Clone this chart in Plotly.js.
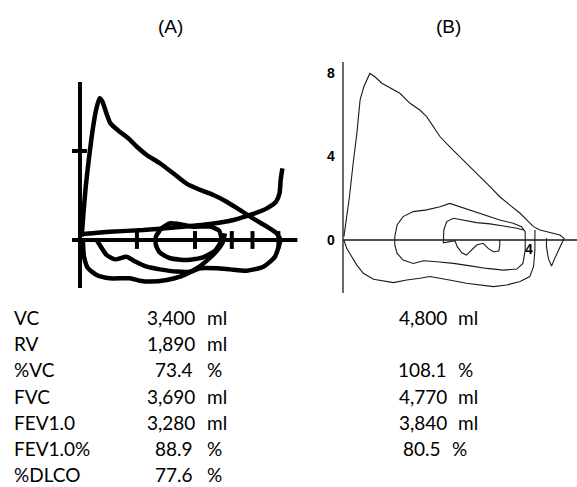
<!DOCTYPE html>
<html>
<head>
<meta charset="utf-8">
<script src="https://cdn.plot.ly/plotly-3.0.1.min.js"></script>
<style>html,body{margin:0;padding:0;background:#fff;}#chart{width:577px;height:487px;}</style>
</head>
<body>
<div id="chart"></div>
<script>
// ---------- Panel A (volume L, flow L/s), hand-traced loops ----------
var aExpX = [0.03,0.06,0.10,0.16,0.22,0.28,0.34,0.39,0.46,0.53,0.67,0.84,0.99,1.16,1.39,1.62,1.86,2.09,2.32,2.55,2.78,3.01,3.25,3.42,3.49];
var aExpY = [0.15,1.2,2.40,3.75,4.94,5.84,6.37,6.22,5.69,5.24,4.91,4.57,4.19,3.82,3.45,3.00,2.52,2.25,2.02,1.72,1.35,0.97,0.60,0.30,0];
var aRiseX = [0.06,0.52,1.10,1.68,2.26,2.67,3.01,3.25,3.41,3.47,3.49,3.52];
var aRiseY = [0.27,0.37,0.45,0.57,0.72,0.90,1.17,1.42,1.72,2.10,2.70,3.22];
var aInspX = [0.05,0.07,0.14,0.29,0.52,0.87,1.04,1.22,1.51,1.74,1.94,2.09,2.38,2.61,2.90,3.19,3.39,3.48];
var aInspY = [0,-0.75,-1.27,-1.57,-1.72,-1.72,-1.83,-1.87,-1.80,-1.65,-1.42,-1.27,-1.27,-1.32,-1.38,-1.20,-0.75,-0.07];
var aInnerX = [0.29,0.38,0.46,0.61,0.81,0.96,1.16,1.39,1.68,1.91,2.09,2.23,2.37,2.48,2.52];
var aInnerY = [0,-0.37,-0.67,-0.87,-0.75,-0.97,-1.20,-1.32,-1.42,-1.42,-1.17,-0.87,-0.52,-0.12,0.30];
var aLoopX = [1.57,1.42,1.32,1.32,1.39,1.57,1.86,2.14,2.35,2.46,2.42,2.26,1.97,1.71,1.57];
var aLoopY = [0.75,0.52,0.15,-0.22,-0.57,-0.82,-0.90,-0.78,-0.48,0,0.42,0.60,0.60,0.72,0.75];
var aXTicks = [0.99,2.0,2.64,3.0,3.45];
var aYTicks = [4];

// ---------- Panel B (volume L, flow L/s) ----------
var bExpX = [0.02,0.06,0.14,0.22,0.30,0.37,0.45,0.58,0.69,0.84,0.98,1.23,1.45,1.66,1.81,1.95,2.10,2.31,2.53,2.75,2.96,3.18,3.39,3.61,3.83,4.01,4.12,4.26,4.48,4.69,4.78,4.69,4.58,4.51,4.44,4.40,4.40];
var bExpY = [0.16,0.80,2.07,3.67,5.1,6.7,7.33,7.97,7.81,7.5,7.33,7.02,6.54,6.22,5.9,5.42,4.94,4.46,3.99,3.51,3.03,2.55,2.07,1.67,1.28,0.88,0.64,0.48,0.35,0.24,0.08,-0.32,-0.88,-1.24,-0.88,-0.32,0.08];
var bInspX = [4.15,4.15,4.12,4.04,3.83,3.54,3.25,2.96,2.67,2.39,2.10,1.88,1.66,1.38,1.09,0.87,0.66,0.44,0.30,0.19,0.08,0.02];
var bInspY = [0.48,-0.48,-1.28,-1.75,-1.99,-2.15,-2.23,-2.15,-2.07,-1.95,-1.83,-1.75,-1.83,-1.91,-2.04,-1.95,-1.88,-1.59,-1.20,-0.80,-0.40,0];
var bMidX = [1.12,1.17,1.30,1.52,1.81,2.10,2.31,2.53,2.82,3.11,3.39,3.68,3.86,3.94,3.94,3.89,3.76,3.47,3.11,2.75,2.39,2.03,1.74,1.52,1.30,1.17,1.12,1.12];
var bMidY = [0.16,0.72,1.12,1.36,1.44,1.59,1.75,1.59,1.40,1.20,0.96,0.80,0.64,0.40,-0.48,-1.12,-1.39,-1.44,-1.36,-1.24,-1.12,-1.04,-0.99,-1.12,-0.96,-0.64,-0.24,0.16];
var bInnerX = [3.91,3.76,3.47,3.18,2.89,2.60,2.39,2.24,2.18,2.17,2.28,2.42,2.47,2.57,2.67,2.78,2.89,3.03,3.14,3.25,3.37,3.39,3.39];
var bInnerY = [0.48,0.56,0.67,0.77,0.83,0.96,1.04,0.88,0.48,-0.13,-0.08,-0.03,-0.32,-0.61,-0.72,-0.48,-0.24,-0.16,-0.40,-0.56,-0.53,-0.24,0];
var bYTicks = [0, 4, 8];
var bXTicks = [4];

// ---------- Table ----------
var rowLabels = ['VC','RV','%VC','FVC','FEV1.0','FEV1.0%','%DLCO'];
var valuesA = ['3,400','1,890','73.4','3,690','3,280','88.9','77.6'];
var unitsA  = ['ml','ml','%','ml','ml','%','%'];
var valuesB = ['4,800','','108.1','4,770','3,840','80.5',''];
var unitsB  = ['ml','','%','ml','ml','%',''];
var panelTitles = ['(A)','(B)'];

var W = 577, H = 487;
function px(x){return x/W;}
function py(y){return 1 - y/H;}

var thickA = {color:'#000', width:4.5, shape:'spline', smoothing:0.6};
var thinB = {color:'#1a1a1a', width:1.1};
function tr(x,y,line,xa,ya){return {x:x,y:y,mode:'lines',line:line,xaxis:xa,yaxis:ya,hoverinfo:'skip',showlegend:false};}

var data = [
  tr(aExpX,aExpY,thickA,'x','y'),
  tr(aRiseX,aRiseY,thickA,'x','y'),
  tr(aInspX,aInspY,thickA,'x','y'),
  tr(aInnerX,aInnerY,thickA,'x','y'),
  tr(aLoopX,aLoopY,thickA,'x','y'),
  tr(bExpX,bExpY,thinB,'x2','y2'),
  tr(bInspX,bInspY,thinB,'x2','y2'),
  tr(bMidX,bMidY,thinB,'x2','y2'),
  tr(bInnerX,bInnerY,thinB,'x2','y2')
];

var aXR = [-0.139, 3.826], aYR = [-2.157, 7.10];
var bXR = [-0.497, 5.06], bYR = [-2.536, 8.517];

var shapes = [
  {type:'line',xref:'x',yref:'y',x0:0,x1:0,y0:aYR[0],y1:aYR[1],line:{color:'#000',width:4}},
  {type:'line',xref:'x',yref:'y',x0:aXR[0],x1:3.78,y0:0,y1:0,line:{color:'#000',width:4}},
  {type:'line',xref:'x2',yref:'y2',x0:0,x1:0,y0:bYR[0],y1:bYR[1],line:{color:'#1a1a1a',width:1.3}},
  {type:'line',xref:'x2',yref:'y2',x0:0,x1:bXR[1],y0:0,y1:0,line:{color:'#1a1a1a',width:1.3}}
];
aXTicks.forEach(function(t){shapes.push({type:'line',xref:'x',yref:'y',x0:t,x1:t,y0:-0.4,y1:0.4,line:{color:'#000',width:4}});});
aYTicks.forEach(function(t){shapes.push({type:'line',xref:'x',yref:'y',x0:-0.14,x1:0.12,y0:t,y1:t,line:{color:'#000',width:4}});});

var annotations = [];
var titleFont = {family:'Liberation Sans, Arial',size:19,color:'#000'};
annotations.push({text:panelTitles[0],xref:'paper',yref:'paper',x:px(170),y:py(27),xanchor:'center',yanchor:'middle',showarrow:false,font:titleFont});
annotations.push({text:panelTitles[1],xref:'paper',yref:'paper',x:px(448),y:py(27),xanchor:'center',yanchor:'middle',showarrow:false,font:titleFont});
var tickFont = {family:'Liberation Sans, Arial',size:14,color:'#000'};
bYTicks.forEach(function(t){annotations.push({text:'<b>'+t+'</b>',xref:'x2',yref:'y2',x:-0.25,y:t,xanchor:'center',yanchor:'middle',showarrow:false,font:tickFont});});
bXTicks.forEach(function(t){annotations.push({text:'<b>'+t+'</b>',xref:'x2',yref:'y2',x:t+0.02,y:-0.45,xanchor:'center',yanchor:'middle',showarrow:false,font:tickFont});});

var tf = {family:'Lato, Open Sans, sans-serif',size:19,color:'#000'};
var rowY0 = 317.5, rowDY = 26.2;
function ann(text,x,y,xa){annotations.push({text:text,xref:'paper',yref:'paper',x:px(x),y:y,xanchor:xa,yanchor:'middle',showarrow:false,font:tf});}
rowLabels.forEach(function(l,i){
  var y = py(rowY0 + i*rowDY);
  ann(l,12,y,'left');
  ann(valuesA[i],unitsA[i]==='%'?195:197,y,'right');
  ann(unitsA[i],205,y,'left');
  if(valuesB[i]){
    var shift = valuesB[i]==='80.5' ? -6 : 0;
    ann(valuesB[i],449+shift,y,'right');
    ann(unitsB[i],456+shift,y,'left');
  }
});

var ax = {visible:false,fixedrange:true};
var layout = {
  width:W,height:H,margin:{l:0,r:0,t:0,b:0},
  paper_bgcolor:'#fff',plot_bgcolor:'rgba(0,0,0,0)',showlegend:false,
  xaxis:Object.assign({},ax,{domain:[px(72),px(300)],range:aXR}),
  yaxis:Object.assign({},ax,{domain:[py(288),py(82)],range:aYR}),
  xaxis2:Object.assign({},ax,{domain:[px(320),1],range:bXR,anchor:'y2'}),
  yaxis2:Object.assign({},ax,{domain:[py(293),py(62)],range:bYR,anchor:'x2'}),
  shapes:shapes,annotations:annotations
};
Plotly.newPlot('chart',data,layout,{displayModeBar:false,staticPlot:true});
</script>
</body>
</html>
